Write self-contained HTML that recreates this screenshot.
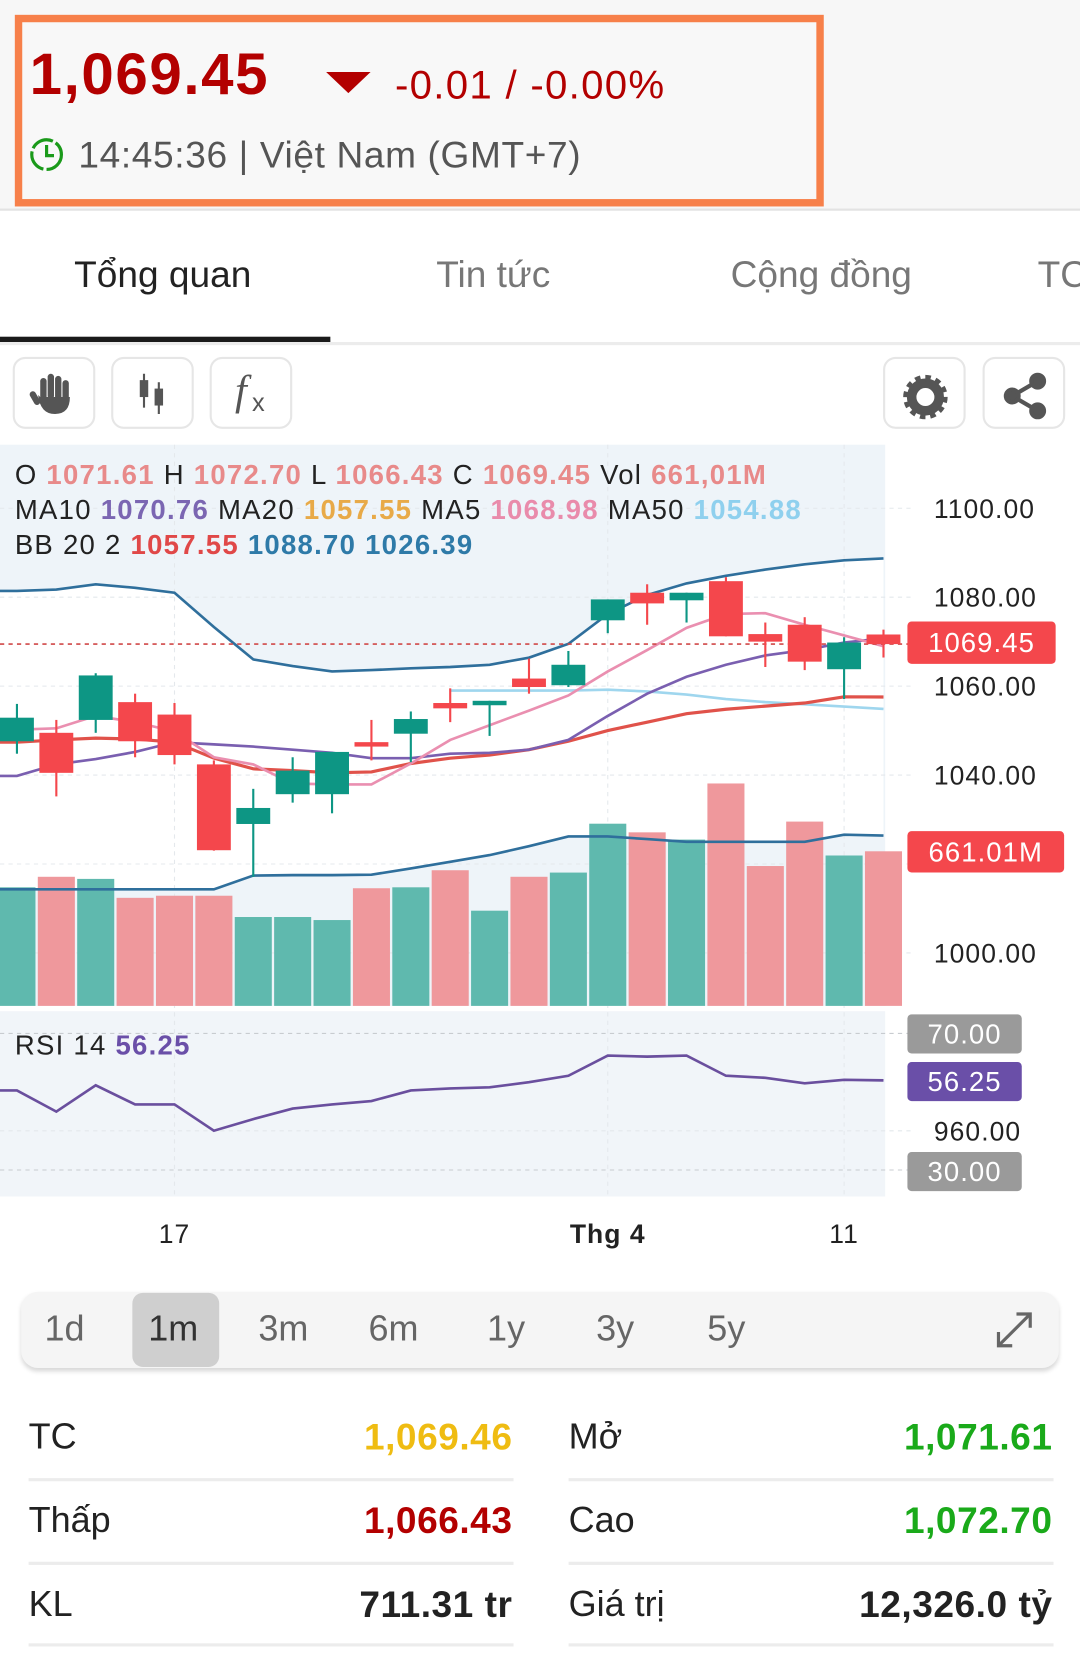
<!DOCTYPE html>
<html><head><meta charset="utf-8">
<style>
html,body{margin:0;padding:0;width:1080px;height:1660px;overflow:hidden;background:#fff;}
#root{position:absolute;left:0;top:0;width:1020px;height:1568px;transform:scale(1.058824);transform-origin:0 0;font-family:"Liberation Sans","Noto Sans CJK SC",sans-serif;}
.abs{position:absolute;}
.btn{position:absolute;top:337px;width:78px;height:68px;border:2px solid #e6e6e6;border-radius:12px;background:#fff;box-sizing:border-box;}
.tab{position:absolute;top:240px;font-size:35px;color:#777;white-space:nowrap;}
.per{position:absolute;top:1236px;font-size:34px;color:#666;}
.lab{position:absolute;font-size:34px;color:#222;}
.val{position:absolute;font-size:35px;font-weight:bold;text-align:right;width:300px;letter-spacing:0.5px;}
.sep{position:absolute;height:3px;background:#ececec;}
</style></head><body>
<div id="root">
  <div class="abs" style="left:0;top:0;width:1020px;height:197px;background:#f7f7f7;border-bottom:2px solid #e3e3e3"></div>
  <div class="abs" style="left:14px;top:14px;width:764px;height:181px;border:7px solid #f7804a;box-sizing:border-box;background:#f8f8f8"></div>
  <div class="abs" style="left:28px;top:38px;font-size:55px;font-weight:bold;color:#b30000;letter-spacing:1.5px">1,069.45</div>
  <svg class="abs" style="left:306px;top:66px" width="46" height="24"><polygon points="2,2 44,2 23,22" fill="#b30000"/></svg>
  <div class="abs" style="left:373px;top:60px;font-size:38px;color:#b30000;letter-spacing:1.2px">-0.01 / -0.00%</div>
  <svg class="abs" style="left:26px;top:128px" width="36" height="36"><circle cx="18" cy="18" r="14" fill="none" stroke="#1a9a1a" stroke-width="3" stroke-dasharray="22 3"/><path d="M18 9 V19 H25" stroke="#1a9a1a" stroke-width="3" fill="none"/></svg>
  <div class="abs" style="left:74px;top:127px;font-size:35px;color:#555;letter-spacing:0.6px">14:45:36 | Việt Nam (GMT+7)</div>

  <div class="tab" style="left:70px;color:#222">Tổng quan</div>
  <div class="tab" style="left:412px">Tin tức</div>
  <div class="tab" style="left:690px">Cộng đồng</div>
  <div class="tab" style="left:980px">TC</div>
  <div class="abs" style="left:0;top:318px;width:312px;height:5px;background:#1a1a1a"></div>
  <div class="abs" style="left:0;top:323px;width:1020px;height:3px;background:#ececec"></div>

  <div class="btn" style="left:12px"><svg width="74" height="64"><g fill="#555"><rect x="24" y="18" width="6" height="22" rx="3"/><rect x="31" y="14" width="6" height="24" rx="3"/><rect x="38" y="16" width="6" height="24" rx="3"/><rect x="45" y="20" width="6" height="22" rx="3"/><path d="M22 34 Q24 52 38 52 Q52 52 52 36 L24 36 Z"/><rect x="16" y="30" width="6" height="14" rx="3" transform="rotate(-30 19 37)"/></g></svg></div>
  <div class="btn" style="left:105px"><svg width="74" height="64"><g fill="#555"><rect x="28" y="14" width="2" height="32"/><rect x="25" y="20" width="8" height="16"/><rect x="42" y="22" width="2" height="30"/><rect x="39" y="28" width="8" height="16"/></g></svg></div>
  <div class="btn" style="left:198px"><div style="position:absolute;left:22px;top:6px;font-family:'Liberation Serif',serif;font-style:italic;font-size:40px;color:#555">f</div><div style="position:absolute;left:38px;top:28px;font-size:24px;color:#555">x</div></div>
  <div class="btn" style="left:834px"><svg width="74" height="64"><circle cx="38" cy="36" r="13" fill="none" stroke="#555" stroke-width="9"/><circle cx="38" cy="36" r="18" fill="none" stroke="#555" stroke-width="6" stroke-dasharray="5 4.4"/></svg></div>
  <div class="btn" style="left:928px"><svg width="74" height="64"><g fill="#555" stroke="#555" stroke-width="4"><line x1="50" y1="21" x2="26" y2="35"/><line x1="50" y1="49" x2="26" y2="35"/><circle cx="50" cy="21" r="6"/><circle cx="26" cy="35" r="6"/><circle cx="50" cy="49" r="6"/></g></svg></div>

  <svg id="chart" class="abs" style="left:0;top:0" width="1020" height="1200"></svg>

  <div class="abs" style="left:20px;top:1220px;width:980px;height:72px;background:#f5f5f5;border-radius:16px;box-shadow:0 3px 4px rgba(0,0,0,0.15)"></div>
  <div class="abs" style="left:125px;top:1221px;width:82px;height:70px;background:#cfcfcf;border-radius:10px"></div>
  <div class="per" style="left:42px">1d</div>
  <div class="per" style="left:140px;color:#333">1m</div>
  <div class="per" style="left:244px">3m</div>
  <div class="per" style="left:348px">6m</div>
  <div class="per" style="left:460px">1y</div>
  <div class="per" style="left:563px">3y</div>
  <div class="per" style="left:668px">5y</div>
  <svg class="abs" style="left:938px;top:1236px" width="40" height="40"><g stroke="#666" stroke-width="3" fill="none"><line x1="5" y1="35" x2="35" y2="5"/><path d="M22 5 H35 V18"/><path d="M5 22 V35 H18"/></g></svg>

  <div class="lab" style="left:27px;top:1338px">TC</div>
  <div class="val" style="left:184px;top:1338px;color:#efbc12">1,069.46</div>
  <div class="lab" style="left:537px;top:1338px">Mở</div>
  <div class="val" style="left:694px;top:1338px;color:#1aaa1a">1,071.61</div>
  <div class="sep" style="left:27px;top:1396px;width:458px"></div><div class="sep" style="left:537px;top:1396px;width:458px"></div>
  <div class="lab" style="left:27px;top:1417px">Thấp</div>
  <div class="val" style="left:184px;top:1417px;color:#b30000">1,066.43</div>
  <div class="lab" style="left:537px;top:1417px">Cao</div>
  <div class="val" style="left:694px;top:1417px;color:#1aaa1a">1,072.70</div>
  <div class="sep" style="left:27px;top:1475px;width:458px"></div><div class="sep" style="left:537px;top:1475px;width:458px"></div>
  <div class="lab" style="left:27px;top:1496px">KL</div>
  <div class="val" style="left:184px;top:1496px;color:#222">711.31 tr</div>
  <div class="lab" style="left:537px;top:1496px">Giá trị</div>
  <div class="val" style="left:694px;top:1496px;color:#222">12,326.0 tỷ</div>
  <div class="sep" style="left:27px;top:1552px;width:458px"></div><div class="sep" style="left:537px;top:1552px;width:458px"></div>
</div>
<script>
const opens  = [1047.6,1049.5,1052.4,1056.4,1053.6,1042.4,1029.0,1035.7,1035.7,1047.4,1049.3,1056.2,1055.7,1061.7,1060.2,1074.8,1081.0,1079.3,1083.6,1071.7,1073.8,1063.8,1071.61];
const highs  = [1056.0,1052.4,1062.9,1058.3,1056.2,1043.3,1036.9,1044.0,1045.2,1052.4,1054.3,1059.5,1056.7,1066.2,1067.9,1079.5,1082.9,1081.0,1084.5,1074.3,1075.5,1071.0,1072.70];
const lows   = [1044.8,1035.2,1049.5,1044.0,1042.4,1023.0,1017.1,1033.8,1031.4,1043.3,1042.9,1051.9,1048.8,1058.3,1059.8,1071.9,1073.8,1074.3,1071.2,1064.3,1063.6,1057.1,1066.43];
const closes = [1052.9,1040.5,1062.4,1047.6,1044.5,1023.1,1032.6,1041.0,1045.2,1046.4,1052.6,1055.0,1056.7,1059.8,1064.8,1079.5,1078.6,1081.0,1071.2,1070.0,1065.5,1069.8,1069.45];
const volumes = [507,552,543,462,471,471,380,380,367,503,507,580,407,552,570,779,742,711,951,598,788,643,661.01];
const ma5  = [1050.2,1050.5,1053.3,1051.9,1049.8,1044.0,1042.4,1038.1,1037.9,1037.9,1042.6,1047.9,1051.2,1054.5,1057.9,1063.3,1068.1,1073.1,1076.2,1076.4,1073.8,1071.4,1068.98];
const ma10 = [1039.8,1042.4,1043.6,1045.2,1047.4,1046.9,1046.4,1045.7,1045.0,1043.8,1043.8,1044.8,1045.0,1045.7,1047.9,1053.3,1058.3,1062.1,1064.8,1066.9,1068.1,1069.8,1070.76];
const ma20 = [1047.4,1047.9,1048.3,1048.1,1047.4,1043.8,1041.4,1041.0,1040.5,1040.7,1042.6,1043.8,1044.5,1045.7,1047.6,1050.0,1051.9,1053.8,1054.8,1055.5,1056.2,1057.6,1057.55];
const ma50 = [null,null,null,null,null,null,null,null,null,null,null,1059.0,1059.0,1059.0,1059.0,1059.2,1058.8,1058.1,1057.1,1056.4,1055.9,1055.4,1054.88];
const bbUpper = [1081.4,1081.7,1082.9,1082.1,1081.0,1073.3,1066.0,1064.5,1063.3,1063.6,1064.0,1064.3,1064.8,1066.4,1069.5,1076.2,1080.5,1083.1,1084.8,1086.2,1087.4,1088.3,1088.70];
const bbLower = [1014.3,1014.3,1014.3,1014.3,1014.3,1014.3,1017.4,1017.5,1017.5,1017.6,1019.0,1020.5,1022.0,1024.0,1026.2,1026.2,1025.6,1025.0,1025.0,1025.0,1025.0,1026.6,1026.39];
const rsi = [53.3,47.1,54.8,49.2,49.2,41.5,44.9,48.0,49.2,50.2,53.3,53.9,54.2,55.7,57.6,63.5,63.2,63.5,57.6,57.0,55.4,56.4,56.25];
const priceTicks = [1100,1080,1060,1040,1020,1000,960];
const timeTicks = [{i:4,t:"17",b:false},{i:15,t:"Thg 4",b:true},{i:21,t:"11",b:false}];

const NS="http://www.w3.org/2000/svg";
const svg=document.getElementById('chart');
const xOf=i=>16+i*37.2;
const yP=p=>480+(1100-p)*4.2;
const yV=v=>950-v*146/661;
const yR=r=>976+(70-r)*3.225;
function mk(tag,attrs,parent){const e=document.createElementNS(NS,tag);for(const k in attrs)e.setAttribute(k,attrs[k]);(parent||svg).appendChild(e);return e;}

let bg=mk('rect',{x:0,y:420,width:836,height:530,fill:'#eef4f9'});


let up=bbUpper.map((v,i)=>[xOf(i),yP(v)]), lo=bbLower.map((v,i)=>[xOf(i),yP(v)]);
up.unshift([0,yP(bbUpper[0])]);lo.unshift([0,yP(bbLower[0])]);
let band=mk('polygon',{points:up.concat(lo.slice().reverse()).map(p=>p.join(',')).join(' '),fill:'#ffffff'});


let rbg=mk('rect',{x:0,y:955,width:836,height:175,fill:'#f1f5f9'});



priceTicks.forEach(p=>{const g=mk('line',{x1:0,x2:860,y1:yP(p),y2:yP(p),stroke:'#e4e8ec','stroke-dasharray':'4 4'});

});
timeTicks.forEach(t=>{const g=mk('line',{x1:xOf(t.i),x2:xOf(t.i),y1:420,y2:1130,stroke:'#e4e8ec','stroke-dasharray':'4 4'});

});

volumes.forEach((v,i)=>{const r=mk('rect',{x:xOf(i)-17.5,y:yV(v),width:35,height:950-yV(v),fill:closes[i]>=opens[i]?'#5fb9ae':'#ef989c'});

});

function line(arr,color,w,name){const pts=[];arr.forEach((v,i)=>{if(v!=null)pts.push(xOf(i)+','+yP(v));});
if(arr[0]!=null)pts.unshift('0,'+yP(arr[0]));
const l=mk('polyline',{points:pts.join(' '),fill:'none',stroke:color,'stroke-width':w});

}
line(bbUpper,'#2f6f9c',2.5,'bb-upper-line');
line(bbLower,'#2f6f9c',2.5,'bb-lower-line');
line(ma50,'#9fd6ee',2.5,'ma50-line');
line(ma20,'#e0524a',3,'ma20-line');
line(ma10,'#7a5fb0',2.5,'ma10-line');
line(ma5,'#ea8fb0',2.5,'ma5-line');

let cp=mk('line',{x1:0,x2:860,y1:yP(closes[22]),y2:yP(closes[22]),stroke:'#d04848','stroke-dasharray':'4 4','stroke-width':1.5});



opens.forEach((o,i)=>{const c=closes[i],col=c>=o?'#0d9684':'#f4474c',x=xOf(i);
const g=mk('g',{});


mk('rect',{x:x-1,y:yP(highs[i]),width:2,height:yP(lows[i])-yP(highs[i]),fill:col},g);
const t=Math.min(yP(o),yP(c)),h=Math.max(3,Math.abs(yP(o)-yP(c)));
mk('rect',{x:x-16,y:t,width:32,height:h,fill:col},g);});

[70,30].forEach(r=>{const l=mk('line',{x1:0,x2:860,y1:yR(r),y2:yR(r),stroke:'#c8ccd0','stroke-dasharray':'4 4'});

});
let rp=rsi.map((v,i)=>xOf(i)+','+yR(v));rp.unshift('0,'+yR(rsi[0]));
let rl=mk('polyline',{points:rp.join(' '),fill:'none',stroke:'#6a4f9e','stroke-width':2.5});



function txt(x,y,s,attrs,name){const t=mk('text',Object.assign({x:x,y:y,'font-size':25,'font-family':'Liberation Sans, sans-serif',fill:'#222','letter-spacing':1},attrs||{}));t.textContent=s;

return t;}

priceTicks.forEach(p=>{if(p!==1020)txt(882,yP(p)+9,p.toFixed(2),{},'price-tick-label');});
function box(x,y,w,h,fill,s,name){const r=mk('rect',{x:x,y:y,width:w,height:h,rx:4,fill:fill});


txt(x+w/2,y+h/2+9,s,{fill:'#fff','text-anchor':'middle','font-size':26},name);}
box(857,587,140,40,'#f4474c',closes[22].toFixed(2),'last-price-label');
box(857,785,148,39,'#f4474c',volumes[22].toFixed(2)+'M','volume-label');
box(857,958,108,37,'#9a9a9a','70.00','rsi-70-label');
box(857,1003,108,37,'#6a4fa8',rsi[22].toFixed(2),'rsi-value-label');
box(857,1088,108,37,'#9a9a9a','30.00','rsi-30-label');

timeTicks.forEach(t=>txt(xOf(t.i),1174,t.t,{'text-anchor':'middle','font-weight':t.b?'bold':'normal'},'time-tick-label'));

function leg(y,parts,name){const t=mk('text',{x:14,y:y,'font-size':26,'font-family':'Liberation Sans, sans-serif','letter-spacing':1.2});


parts.forEach(p=>{const s=mk('tspan',{fill:p[1],'font-weight':p[2]?'bold':'normal'},t);s.textContent=p[0];});}
const pk='#e88a8a';
leg(457,[['O ','#222'],['1071.61 ',pk,1],['H ','#222'],['1072.70 ',pk,1],['L ','#222'],['1066.43 ',pk,1],['C ','#222'],['1069.45 ',pk,1],['Vol ','#222'],['661,01M',pk,1]],'ohlc-legend');
leg(490,[['MA10 ','#222'],['1070.76 ','#7b66b2',1],['MA20 ','#222'],['1057.55 ','#e8aa48',1],['MA5 ','#222'],['1068.98 ','#e98bab',1],['MA50 ','#222'],['1054.88','#8fd0ee',1]],'ma-legend');
leg(523,[['BB 20 2 ','#222'],['1057.55 ','#e04848',1],['1088.70 ','#2e7aa8',1],['1026.39','#2e7aa8',1]],'bb-legend');
leg(996,[['RSI 14 ','#222'],['56.25','#6a4fa8',1]],'rsi-legend');
</script>
</body></html>
